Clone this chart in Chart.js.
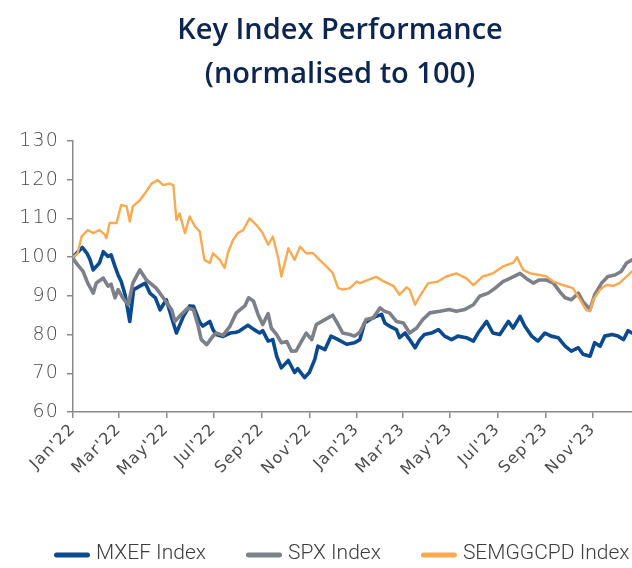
<!DOCTYPE html>
<html>
<head>
<meta charset="utf-8">
<script src="https://cdn.jsdelivr.net/npm/chart.js@4.4.1/dist/chart.umd.min.js"></script>
<style>
  html, body { margin: 0; padding: 0; background: #ffffff; }
  #wrap { width: 632px; height: 568px; }
</style>
</head>
<body>
<div id="wrap"><canvas id="c" width="632" height="568"></canvas></div>
<script>
// ---- Data (x = days since 1 Jan 2022, y = index normalised to 100) ----
const titleLines = ['Key Index Performance', '(normalised to 100)'];
const seriesNames = ['MXEF Index', 'SPX Index', 'SEMGGCPD Index'];

const tickDays = [0, 59, 120, 181, 243, 304, 365, 424, 485, 546, 608, 669];
const tickLabels = ["Jan'22", "Mar'22", "May'22", "Jul'22", "Sep'22", "Nov'22",
                    "Jan'23", "Mar'23", "May'23", "Jul'23", "Sep'23", "Nov'23"];

const mxefDays = [0,6,12,18,22,26,34,39,45,49,54,58,62,67,73,78,86,93,99,106,112,120,129,133,142,150,155,163,167,176,180,184,193,202,210,214,225,232,240,244,251,257,262,268,277,285,289,298,304,311,315,324,332,341,352,362,369,375,382,390,397,401,407,416,420,427,433,440,446,452,461,470,478,487,495,506,515,521,532,540,549,560,566,575,581,590,598,607,615,624,633,641,650,656,665,671,678,684,693,701,708,714,719];
const mxefValues = [100,101.3,102.5,101,99.3,96.7,98.5,101.4,100.2,100.6,97.6,95.4,93.7,90.3,83.4,91.6,92.5,93.3,90.7,89.5,86.4,89,83,80.4,84.7,87.4,87.3,83.2,82.2,83.4,81.3,80,79.5,80.4,80.6,80.9,82.4,81.4,80.4,81,78.3,78.7,74.4,71.4,73.3,70.2,71.2,68.9,70.2,73.6,77,76.1,79.6,78.7,77.5,77.9,78.7,83,83.9,84.7,85.2,83,82.2,81.3,79.2,80.4,78.7,76.6,78.7,80,80.4,81.3,79.6,78.7,79.6,79.2,78.3,80.4,83.4,80.4,80,83.4,81.7,84.7,82.2,79.6,78.3,80.4,79.6,79.2,77,75.7,76.6,74.9,74.4,77.9,77,79.6,80,79.6,78.7,81,80.4];

const spxDays = [0,6,13,19,26,30,39,45,49,54,58,64,71,77,86,94,107,116,127,131,137,148,155,161,165,172,180,184,193,202,210,221,226,232,238,244,251,255,262,268,275,281,287,294,300,307,313,320,328,334,341,347,356,362,369,377,386,395,401,407,416,425,433,442,450,459,472,484,493,504,515,523,534,543,553,562,575,583,592,600,609,618,626,633,641,650,656,665,671,680,688,697,705,712,719];
const spxValues = [99.6,98,96.3,93.3,90.7,93.3,94.6,92.5,93,89.5,91.6,89.5,87.7,93.3,96.7,94.2,92,89.5,86.4,83.4,84.7,86.9,86.4,82.2,78.7,77.4,79.6,80.4,79.8,82.2,85.6,87.4,89.5,88.7,85.2,82.6,85.4,81.7,80,77.9,78.2,75.7,75.8,78.3,80.4,78.7,82.6,83.4,84.3,85,82.6,80.4,80,79.6,80.6,83.9,84.3,86.9,86,85.6,83.4,83,80.4,81.7,83.9,85.6,86,86.5,86,86.5,87.7,89.9,90.7,92,93.7,94.5,95.8,94.5,93.3,94.1,94.1,93.3,91.1,89.5,89,90.7,88.5,86.5,90.3,93.3,95,95.4,96.3,98.5,99.3];

const semDays = [0,6,11,19,26,34,41,43,47,56,62,69,73,77,86,94,101,109,116,124,129,133,137,144,150,157,163,169,176,180,189,195,199,206,212,219,227,236,244,251,257,264,268,277,285,292,300,309,317,326,334,341,347,356,365,369,382,390,399,412,420,429,433,440,446,457,468,480,493,506,515,527,540,553,566,571,579,588,600,609,618,630,643,652,660,665,669,678,686,695,703,712,719];
const semValues = [100,101,105.3,107,106.2,107,105.8,104.9,108.8,108.8,113.5,113.1,109.2,113.1,114.7,116.9,119,119.9,118.6,119,118.6,109.6,111.3,106.2,110.5,107.9,106.6,99.3,98.5,101,99.3,97.2,101,104.5,106.2,107,110,108.3,106.2,103.2,105.3,99.7,95,102.3,99.3,102.7,101,101,99.3,97.6,95.9,92,91.6,92,93.7,93.3,94.3,94.9,93.8,92.6,90.3,92.2,91.6,87.7,89.9,93.3,93.6,95,95.8,94.5,92.8,95,95.8,97.6,98.5,100,96.7,95.8,95.4,95,93.7,92.8,92,89,86.4,86,89,91.6,92.8,92.6,93.3,95,96.3];

// ---- Styling ----
const colors = ['#0b4a8e', '#7b8089', '#f9aa4f'];
const widths = [3.6, 3.6, 2.4];
const axisColor = '#8a8a8a';
const tickColor = '#4a4a4a';

function pairs(days, vals) { return days.map((d, i) => ({ x: d, y: vals[i] })); }

const headerLegendPlugin = {
  id: 'headerLegend',
  beforeDraw(chart) { chart.ctx.letterSpacing = '1.2px'; },
  afterDraw(chart) {
    const ctx = chart.ctx;
    ctx.save();
    ctx.letterSpacing = '0px';
    // title
    ctx.fillStyle = '#0c2551';
    ctx.font = '600 29px "Open Sans", "Noto Sans", sans-serif';
    ctx.textAlign = 'center';
    ctx.textBaseline = 'alphabetic';
    ctx.fillText(titleLines[0], 340, 39);
    ctx.fillText(titleLines[1], 340, 83);
    // legend
    ctx.font = '300 21px Roboto, "Noto Sans", sans-serif';
    ctx.textBaseline = 'middle';
    ctx.textAlign = 'left';
    let x = 54;
    const y = 555;
    chart.data.datasets.forEach((ds, i) => {
      ctx.strokeStyle = ds.borderColor;
      ctx.lineWidth = 5;
      ctx.lineCap = 'round';
      ctx.beginPath();
      ctx.moveTo(x + 2.5, y);
      ctx.lineTo(x + 33.5, y);
      ctx.stroke();
      ctx.fillStyle = '#3c3c3c';
      ctx.fillText(ds.label, x + 42, y - 1);
      x = x + 42 + ctx.measureText(ds.label).width + 40;
    });
    ctx.restore();
  }
};

const datasets = [
  { label: seriesNames[0], data: pairs(mxefDays, mxefValues), order: 3 },
  { label: seriesNames[1], data: pairs(spxDays, spxValues), order: 2 },
  { label: seriesNames[2], data: pairs(semDays, semValues), order: 1 }
].map((d, i) => Object.assign(d, {
  borderColor: colors[i], backgroundColor: colors[i], borderWidth: widths[i],
  pointRadius: 0, tension: 0, fill: false, borderJoinStyle: 'round', borderCapStyle: 'round'
}));

new Chart(document.getElementById('c'), {
  type: 'line',
  data: { datasets },
  plugins: [headerLegendPlugin],
  options: {
    responsive: false,
    animation: false,
    devicePixelRatio: 1,
    layout: { padding: { top: 141, right: 0, bottom: 0, left: 0 } },
    plugins: { legend: { display: false }, title: { display: false }, tooltip: { enabled: false } },
    scales: {
      x: {
        type: 'linear', min: 0, max: 719,
        afterBuildTicks: s => { s.ticks = tickDays.map(v => ({ value: v })); },
        afterFit: s => { s.height = 156; },
        ticks: {
          autoSkip: false, maxRotation: 45, minRotation: 45, padding: 2,
          color: tickColor,
          font: { family: '"DejaVu Sans", sans-serif', size: 16 },
          callback: (v, i) => tickLabels[i]
        },
        grid: { display: true, drawOnChartArea: false, drawTicks: true, tickLength: 6, color: axisColor, lineWidth: 1.5 },
        border: { display: true, color: axisColor, width: 1.5 }
      },
      y: {
        min: 60, max: 130,
        afterFit: s => { s.width = 73; },
        ticks: {
          stepSize: 10, padding: 8, color: tickColor,
          font: { family: '"DejaVu Sans", sans-serif', size: 19, weight: 300 }
        },
        grid: { display: true, drawOnChartArea: false, drawTicks: true, tickLength: 6, color: axisColor, lineWidth: 1.5 },
        border: { display: true, color: axisColor, width: 1.5 }
      }
    }
  }
});
</script>
</body>
</html>
